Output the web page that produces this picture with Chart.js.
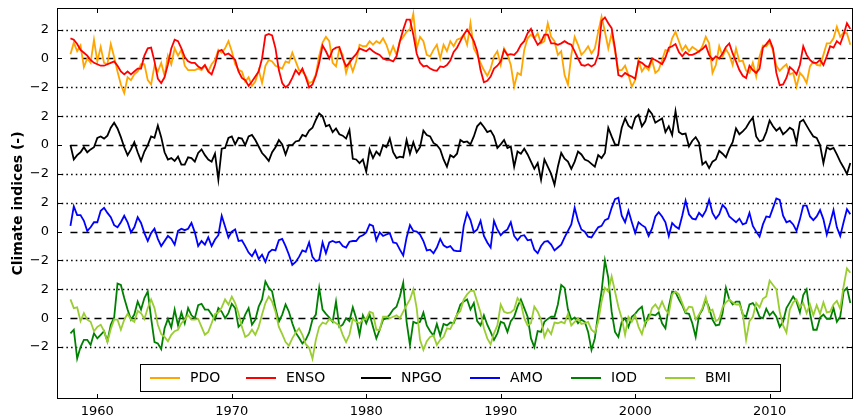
<!DOCTYPE html>
<html>
<head>
<meta charset="utf-8">
<title>Climate indices</title>
<script src="https://cdn.jsdelivr.net/npm/chart.js@4.4.1/dist/chart.umd.min.js"></script>
<style>
    html, body { margin: 0; padding: 0; background: #ffffff; }
    #wrap { width: 853px; height: 419px; }
</style>
</head>
<body>
<div id="wrap"><canvas id="indicesChart" width="853" height="419"></canvas></div>
<script>
'use strict';

// Quarterly samples, first value at 1958.00, last at 2016.00
const startYear = 1958;
const stepYears = 0.25;

const yearTicks = [1960, 1970, 1980, 1990, 2000, 2010];
const panelTicks = [2, 0, -2];

const seriesNames = ['PDO', 'ENSO', 'NPGO', 'AMO', 'IOD', 'BMI'];

const pdo = [
    0.3, 1.1, 0.5, 0.9,   -0.6, 0.0, -0.3, 1.3,   -0.2, 0.8, -0.3, -0.4,   1.0, 0.1, -0.9, -1.8,
    -2.4, -1.3, -1.5, -1.1,   -0.9, -0.4, -0.4, -1.5,   -1.8, -0.5, -0.9, -0.3,   -1.2, 0.2, -0.4, 0.7,
    0.2, 0.6, -0.5, -0.8,   -0.8, -0.8, -0.7, -0.8,   -0.5, -0.9, -0.4, -0.1,   0.6, 0.4, 0.7, 1.2,
    0.5, -0.4, -0.8, -0.9,   -1.6, -1.3, -1.9, -1.6,   -0.8, -1.7, -0.5, -0.1,   -0.2, -0.5, -0.6, -0.7,
    -0.2, -0.3, 0.4, -0.2,   -0.8, -0.9, -1.2, -1.7,   -1.6, -1.1, 0.2, 1.1,   1.5, 1.2, -0.3, -0.55,
    0.7, 0.25, -1.0, -0.2,   -0.9, -0.2, 0.95, 0.85,   0.85, 1.2, 0.95, 1.2,   1.05, 1.4, 0.95, 0.25,
    0.85, 0.25, 1.2, 1.5,   1.85, 2.05, 3.1, 0.7,   1.5, 1.2, 0.25, 0.15,   0.6, 0.95, 0.0, 0.95,
    0.5, 1.2, 0.85, 1.3,   1.4, 1.65, 0.95, 2.45,   0.7, 0.25, -0.3, -0.8,   -1.2, -0.7, 0.15, 0.5,
    -0.45, 0.7, 0.25, -0.45,   -1.95, -1.0, -1.15, 0.6,   1.4, 1.65, 1.4, 1.75,   1.05, 1.2, 2.45, 1.5,
    1.2, 0.25, 0.5, -1.15,   -1.8, 0.25, 1.5, 0.95,   0.25, 0.5, 0.85, 0.35,   0.7, 1.85, 2.9, 1.85,
    0.7, 1.75, 0.5, -0.8,   -0.8, -0.5, -1.15, -1.95,   -1.5, -0.1, -0.9, -0.55,   -0.8, -0.1, -1.0, -0.8,
    -0.1, 0.6, 0.5, 1.4,   1.85, 1.2, 0.55, 0.9,   0.5, 0.8, 0.65, 0.45,   0.85, 1.5, 1.05, -1.0,
    -0.45, 0.85, 0.15, 0.65,   0.25, -0.45, 0.7, -0.2,   -0.15, -0.85, -1.0, -0.3,   -1.25, 0.15, 0.9, 0.85,
    1.15, 0.55, -0.5, -0.85,   -0.6, -0.4, -1.1, -1.0,   -1.95, -1.0, -1.25, -1.7,   -0.55, -0.2, -0.45, -0.5,
    0.25, 1.05, 1.05, 1.4,   2.2, 1.5, 1.8, 1.75,   0.95
];

const enso = [
    1.4, 1.3, 1.0, 0.6,   0.4, 0.2, -0.1, -0.3,   -0.4, -0.5, -0.5, -0.4,   -0.3, -0.2, -0.5, -0.9,
    -1.1, -0.9, -1.1, -0.9,   -0.7, -0.7, 0.2, 0.7,   0.75, -0.2, -1.4, -1.7,   -1.3, -0.4, 0.7, 1.3,
    1.2, 0.7, 0.1, -0.2,   -0.3, -0.3, -0.55, -0.7,   -0.45, -0.9, -1.1, -0.45,   0.5, 0.6, 0.25, 0.35,
    0.15, -0.1, -0.9, -1.35,   -1.5, -1.9, -1.6, -1.25,   -0.9, 0.0, 1.6, 1.7,   1.6, 0.7, -0.8, -1.7,
    -2.0, -1.8, -1.35, -0.8,   -1.1, -0.7, -1.3, -2.0,   -1.8, -1.2, -0.3, 0.9,   0.5, 0.0, 0.6, 0.75,
    0.8, 0.0, -0.55, -0.3,   0.05, 0.3, 0.7, 0.6,   0.5, 0.7, 0.5, 0.35,   0.25, 0.0, -0.1, -0.1,
    -0.2, 0.15, 1.2, 2.0,   2.7, 2.7, 1.65, 0.35,   -0.3, -0.55, -0.5, -0.7,   -0.8, -0.85, -0.55, -0.6,
    -0.45, -0.15, 0.45, 0.75,   1.2, 1.65, 2.0, 1.65,   1.2, 0.5, -0.8, -1.65,   -1.55, -1.25, -0.7, -0.5,
    -0.2, 0.6, 0.25, 0.3,   0.25, 0.5, 0.95, 1.2,   1.75, 2.05, 1.4, 0.95,   1.15, 1.65, 1.65, 1.05,
    1.05, 0.95, 1.05, 1.2,   1.05, 0.95, 0.5, 0.0,   -0.45, -0.5, -0.4, -0.55,   -0.4, 0.25, 2.6, 2.85,
    2.45, 2.1, 0.7, -1.15,   -1.25, -1.0, -1.15, -1.25,   -1.4, -0.2, -0.3, -0.5,   -0.6, 0.0, -0.1, -0.25,
    -0.4, 0.05, 0.75, 0.85,   1.0, 0.45, 0.15, 0.45,   0.25, 0.25, 0.35, 0.5,   0.65, 0.9, 0.25, -0.1,
    0.15, 0.0, 0.35, 0.8,   1.05, 0.35, -0.2, -0.8,   -1.2, -1.35, -0.5, -0.8,   -1.0, -0.7, 0.75, 1.0,
    1.3, 0.7, -1.0, -1.85,   -1.8, -1.35, -0.6, -0.8,   -1.1, -0.45, 0.85, 0.25,   -0.1, -0.3, -0.3, -0.1,
    -0.45, 0.15, 0.85, 0.75,   1.2, 1.0, 1.65, 2.45,   2.05
];

const npgo = [
    0.0, -1.0, -0.7, -0.5,   -0.15, -0.5, -0.3, -0.15,   0.5, 0.6, 0.45, 0.65,   1.2, 1.55, 1.15, 0.55,
    -0.15, -0.7, -0.3, 0.2,   -0.5, -1.1, -0.45, 0.0,   0.6, 0.5, 1.35, 0.55,   -0.5, -1.0, -0.9, -1.1,
    -0.8, -1.35, -1.35, -0.85,   -0.9, -1.15, -0.55, -0.3,   -0.7, -1.0, -1.15, -0.6,   -2.4, -0.25, -0.2, 0.5,
    0.6, 0.05, 0.5, 0.45,   0.0, 0.6, 0.7, 0.35,   -0.1, -0.55, -0.8, -1.1,   -0.5, -0.15, 0.35, 0.05,
    -0.65, 0.0, 0.0, 0.25,   0.3, 0.7, 0.6, 1.0,   1.2, 1.75, 2.2, 2.0,   1.3, 1.4, 0.9, 1.15,
    0.75, 0.65, 0.45, 1.05,   -0.95, -1.0, -1.25, -1.0,   -1.85, -0.3, -0.9, -0.45,   -0.7, 0.0, -0.15, 0.45,
    -0.5, -0.9, -0.8, -0.85,   0.35, -0.6, 0.2, -0.5,   -0.15, 1.0, 0.7, 0.6,   0.15, 0.0, -0.3, -1.0,
    -1.5, -0.7, -0.85, -0.6,   0.35, 0.2, 0.25, 0.05,   0.6, 1.3, 1.55, 1.25,   0.9, 1.0, 0.6, -0.2,
    0.05, 0.35, -0.2, -0.1,   -1.5, -0.45, -0.6, -0.25,   -0.65, -1.15, -1.65, -1.25,   -2.4, -1.0, -1.5, -2.0,
    -2.75, -1.5, -0.55, -0.95,   -1.15, -1.65, -1.15, -0.45,   -0.65, -1.0, -1.1, -1.3,   -1.5, -0.7, -0.9, -0.55,
    1.2, 0.6, 0.05, 0.0,   1.2, 1.85, 1.35, 1.15,   1.9, 2.1, 1.3, 1.65,   2.45, 2.15, 1.55, 1.7,
    1.85, 0.9, 1.3, 0.7,   2.35, 0.9, 0.75, 0.8,   -0.1, 0.3, 0.55, 0.15,   -1.35, -1.15, -1.6, -1.15,
    -1.0, -0.4, -0.6, -0.85,   -0.25, 0.2, 1.15, 0.75,   0.95, 1.2, 1.6, 1.9,   0.6, 0.25, 0.35, 0.9,
    1.7, 1.3, 1.0, 1.2,   0.75, 0.95, 1.2, 1.05,   0.15, 1.6, 1.75, 1.35,   0.95, 0.6, 0.5, 0.0,
    -1.25, -0.15, -0.3, -0.2,   -0.65, -1.15, -1.55, -2.0,   -1.25
];

const amo = [
    0.4, 1.75, 1.15, 1.15,   0.75, 0.05, 0.3, 0.65,   0.65, 1.45, 1.65, 1.3,   1.0, 0.45, 0.3, 0.65,
    1.1, 0.65, -0.05, 0.3,   1.0, 0.6, -0.1, -0.65,   -0.1, 0.2, -0.5, -1.0,   -0.65, -0.3, -0.5, -0.9,
    0.05, 0.2, 0.1, 0.2,   0.6, -0.05, -1.0, -0.65,   -0.9, -0.4, -1.0, -0.55,   -0.25, 1.1, 0.35, -0.4,
    0.0, 0.15, -0.65, -0.6,   -1.0, -1.45, -1.7, -1.3,   -1.9, -1.6, -2.1, -1.45,   -1.25, -1.3, -0.6, -0.5,
    -1.0, -1.6, -2.3, -2.1,   -1.75, -1.3, -1.4, -0.75,   -1.75, -2.05, -1.95, -0.75,   -1.5, -0.75, -0.65, -0.75,
    -0.7, -1.0, -1.1, -0.7,   -0.65, -0.65, -0.35, -0.25,   -0.05, 0.5, 0.4, -0.6,   -0.05, -0.3, -0.2, -0.1,
    -0.75, -0.8, -1.25, -1.65,   -0.4, 0.45, 0.05, 0.0,   -0.2, -0.65, -1.3, -1.25,   -1.5, -1.1, -0.5, -0.95,
    -1.1, -1.0, -1.3, -1.35,   -1.35, 0.4, 1.3, 0.8,   -0.05, 0.15, 0.75, -0.3,   -0.75, -1.1, 0.75, 0.15,
    -0.25, 0.0, 0.15, 0.65,   -0.3, -0.6, -0.3, -0.25,   -0.6, -0.55, -1.25, -1.5,   -1.0, -0.7, -0.65, -0.9,
    -1.3, -1.1, -0.9, -0.4,   0.05, 0.5, 1.65, 0.75,   0.15, 0.0, -0.35, -0.4,   -0.05, 0.3, 0.4, 0.8,
    0.9, 1.65, 2.25, 2.35,   1.1, 0.65, 1.45, 0.65,   -0.1, 0.65, 0.45, 0.3,   -0.3, 0.2, 1.05, 1.35,
    1.05, 0.65, -0.3, 0.6,   0.35, 0.2, 1.1, 2.15,   1.2, 0.9, 0.85, 1.3,   1.05, 1.45, 2.2, 1.3,
    0.9, 1.2, 1.85, 1.6,   1.05, 0.85, 0.65, 0.9,   0.5, 0.6, 1.3, 0.4,   0.0, -0.35, 0.5, 1.05,
    1.0, 1.65, 2.3, 2.2,   1.1, 0.65, 0.75, 0.5,   0.05, 0.85, 1.8, 1.8,   1.05, 0.8, 1.05, 1.5,
    0.85, -0.2, 0.6, 1.5,   0.3, -0.3, 0.65, 1.55,   1.2
];

const iod = [
    -1.05, -0.8, -2.8, -2.0,   -1.5, -1.5, -1.85, -1.05,   -1.4, -1.15, -0.9, -1.6,   -0.45, 0.05, 2.4, 2.3,
    1.4, 0.6, -0.1, 0.25,   1.15, 0.6, 1.4, 1.85,   0.0, -1.65, -1.75, -2.15,   -0.7, -0.05, -0.65, 0.6,
    -0.5, 0.4, -0.35, 0.7,   0.2, 0.0, 0.9, 1.0,   0.6, 0.6, 0.25, -0.1,   0.7, 0.45, 0.0, 0.35,
    1.0, 0.7, -0.6, -0.35,   0.25, 0.7, -0.45, -0.1,   0.8, 1.3, 2.55, 2.1,   1.85, 0.7, -0.25, 0.25,
    0.95, 0.45, -0.35, -1.0,   -1.35, -1.75, -1.5, -1.0,   -0.1, 0.25, 2.1, 0.6,   0.3, 0.05, -0.25, 1.15,
    -0.6, -0.45, 0.0, -0.2,   0.75, 0.0, -1.15, 0.2,   -0.35, 0.25, -0.6, -1.4,   -0.8, -0.1, 0.0, 0.25,
    0.6, 0.8, 1.5, 2.45,   -0.25, -1.85, -0.25, -0.35,   -0.25, 0.4, -0.5, -0.9,   -1.2, -0.4, -1.2, -0.4,
    -0.5, -0.3, -0.35, 0.25,   0.95, 1.15, 1.3, 0.6,   1.05, -0.2, -0.5, 0.2,   -0.45, -0.95, -1.5, -1.05,
    -0.25, -0.35, -0.95, -0.2,   0.1, 0.8, 1.3, 0.7,   0.1, -1.4, -2.0, -0.9,   -0.95, -0.25, -0.05, 0.1,
    0.1, 0.95, 2.3, 2.1,   0.6, -0.1, 0.05, -0.35,   -0.1, -0.25, -0.95, -2.2,   -1.4, 0.35, 1.85, 4.0,
    2.8, 0.45, -0.95, -1.3,   -0.25, 0.0, -0.6, 0.1,   0.3, 0.6, 0.8, -0.45,   0.25, 0.25, 0.2, 0.4,
    -0.35, -0.7, 0.8, 1.85,   1.8, 1.3, 0.9, 0.35,   0.3, -0.35, -1.3, 0.2,   0.6, 1.3, 0.7, -0.1,
    -0.5, -0.45, 0.35, 2.1,   1.3, 0.95, 1.15, 1.15,   0.25, 0.1, 0.95, 1.05,   0.7, 0.1, 0.0, 0.65,
    0.2, 0.45, 0.1, -0.6,   -0.25, 0.7, 1.1, 1.5,   1.15, 0.4, 1.6, 2.0,   0.35, -0.8, -0.8, 0.05,
    0.25, -0.05, -0.05, 0.7,   -0.25, 0.1, 1.85, 2.1,   1.05
];

const bmi = [
    1.3, 0.7, 0.75, -0.2,   0.35, -0.1, -0.25, -0.9,   -0.6, -0.45, -0.9, -1.65,   -0.75, -0.1, -0.1, -0.8,
    -0.1, 0.3, -0.1, -0.25,   0.5, 0.35, -0.05, 0.7,   1.3, 0.7, -0.45, -1.1,   -1.3, -1.6, -1.15, -0.9,
    -0.8, -0.35, -0.1, 0.2,   -0.1, -0.1, -0.05, -0.6,   -1.15, -0.95, -0.35, 0.3,   0.4, 0.75, 1.3, 0.95,
    1.5, 1.05, 0.35, -0.6,   -1.3, -1.15, -0.8, -1.15,   -0.6, 0.25, 1.05, 1.5,   1.15, 0.45, -0.6, -1.1,
    -1.65, -1.9, -1.4, -1.0,   -0.7, -1.15, -1.8, -2.05,   -2.8, -1.5, -0.6, -0.3,   -0.4, -0.05, -0.2, -0.35,
    -0.5, -1.15, -1.65, -1.15,   -0.05, -0.25, -0.35, -0.1,   -0.05, 0.45, 0.35, -0.8,   -0.8, 0.1, 0.1, 0.0,
    0.1, 0.2, 0.0, 0.45,   0.9, 1.3, 2.0, 0.7,   -1.5, -2.2, -1.6, -1.3,   -1.2, -1.85, -1.5, -1.3,
    -0.7, -0.75, -0.25, 0.25,   0.5, 1.3, 1.65, 1.9,   1.9, 1.15, 0.4, -0.7,   -1.4, -1.8, -1.05, -0.5,
    0.95, 0.45, 0.35, 0.4,   0.6, 1.4, 1.05, 0.0,   -0.5, -0.35, 0.8, 0.45,   -0.1, -1.3, -0.75, -1.1,
    -0.3, -0.35, -0.25, -0.35,   0.3, -0.5, -0.25, 0.0,   -0.4, -0.35, -0.25, -0.8,   -1.0, -0.25, 1.15, 2.1,
    1.85, 2.9, 1.85, 0.8,   0.0, -1.15, 0.1, -0.25,   0.2, -0.6, -1.1, -0.25,   -0.1, 0.7, 0.95, 0.6,
    1.15, 0.6, 0.3, 1.65,   1.85, 1.65, 1.05, 0.45,   0.8, 0.75, -0.1, 0.25,   0.7, 1.45, 0.45, 0.6,
    -0.2, -0.05, 0.75, 1.1,   1.3, 1.1, 0.95, 0.95,   0.35, -1.5, -0.2, 0.1,   1.05, 0.75, 1.35, 1.5,
    2.6, 2.3, 2.0, 0.45,   -0.5, -1.0, 0.6, 1.1,   1.3, 0.75, 1.05, 0.35,   0.95, 0.2, 0.9, 0.3,
    1.1, 0.4, 0.45, 0.95,   1.2, 0.65, 2.2, 3.45,   3.15
];

// which stacked panel each series sits in (0 = top)
const seriesPanels = [0, 0, 1, 2, 3, 3];
const seriesValues = [pdo, enso, npgo, amo, iod, bmi];
const seriesColors = ['#ffa500', '#ff0000', '#000000', '#0000ff', '#008000', '#9acd32'];

const PANEL_STEP = 6;      // vertical shift between panels, in index units
const PANEL_COUNT = 4;
const FONT = "'DejaVu Sans', sans-serif";

// left end of each legend entry's line sample, in canvas pixels
const LEGEND_SLOTS = [150, 246, 361, 470, 571, 665];

/**
 * Dotted lines at +/-2 and a dashed zero line for every panel
 */
const refLinesPlugin = {
    id: 'refLines',
    beforeDatasetsDraw(chart) {
        const {ctx, chartArea, scales: {x, y}} = chart;
        ctx.save();
        ctx.strokeStyle = '#000';
        for (let p = 0; p < PANEL_COUNT; p++) {
            const base = -PANEL_STEP * p;
            // dotted +/-2
            ctx.lineWidth = 1.5;
            ctx.setLineDash([1.5, 3.2]);
            [2, -2].forEach(v => {
                const py = Math.round(y.getPixelForValue(base + v)) + 0.5;
                ctx.beginPath();
                ctx.moveTo(chartArea.left, py);
                ctx.lineTo(chartArea.right, py);
                ctx.stroke();
            });
            // dashed zero over the data period
            ctx.lineWidth = 1.5;
            ctx.setLineDash([7, 5]);
            const pz = Math.round(y.getPixelForValue(base)) + 0.5;
            ctx.beginPath();
            ctx.moveTo(x.getPixelForValue(startYear), pz);
            ctx.lineTo(x.getPixelForValue(startYear + stepYears * (pdo.length - 1)), pz);
            ctx.stroke();
        }
        ctx.restore();
    }
};

/**
 * Box around the plot with inward ticks on all four sides
 */
const framePlugin = {
    id: 'frame',
    afterDatasetsDraw(chart) {
        const {ctx, chartArea: a, scales: {x, y}} = chart;
        const len = 5;
        ctx.save();
        ctx.strokeStyle = '#000';
        ctx.lineWidth = 1;
        ctx.setLineDash([]);
        ctx.strokeRect(a.left + 0.5, a.top + 0.5, a.right - a.left - 1, a.bottom - a.top - 1);
        ctx.beginPath();
        x.ticks.forEach(t => {
            const px = Math.round(x.getPixelForValue(t.value)) + 0.5;
            ctx.moveTo(px, a.bottom);
            ctx.lineTo(px, a.bottom - len);
            ctx.moveTo(px, a.top);
            ctx.lineTo(px, a.top + len);
        });
        y.ticks.forEach(t => {
            const py = Math.round(y.getPixelForValue(t.value)) + 0.5;
            ctx.moveTo(a.left, py);
            ctx.lineTo(a.left + len, py);
            ctx.moveTo(a.right, py);
            ctx.lineTo(a.right - len, py);
        });
        ctx.stroke();
        ctx.restore();
    }
};

/**
 * Single-row legend drawn inside the plot, near the bottom
 */
const legendPlugin = {
    id: 'insideLegend',
    afterDraw(chart) {
        const {ctx} = chart;
        const box = {left: 140, top: 364, width: 640, height: 27};
        const lineLen = 30;
        const textGap = 10;
        ctx.save();
        ctx.font = '14px ' + FONT;
        ctx.fillStyle = '#fff';
        ctx.fillRect(box.left, box.top, box.width, box.height);
        ctx.strokeStyle = '#000';
        ctx.lineWidth = 1;
        ctx.strokeRect(box.left + 0.5, box.top + 0.5, box.width, box.height);

        const cy = box.top + box.height / 2 + 0.5;
        ctx.textBaseline = 'middle';
        chart.data.datasets.forEach((ds, i) => {
            const cx = LEGEND_SLOTS[i];
            ctx.strokeStyle = ds.borderColor;
            ctx.lineWidth = 2;
            ctx.beginPath();
            ctx.moveTo(cx, cy);
            ctx.lineTo(cx + lineLen, cy);
            ctx.stroke();
            ctx.fillStyle = '#000';
            ctx.fillText(ds.label, cx + lineLen + textGap, cy);
        });
        ctx.restore();
    }
};

function buildDatasets() {
    return seriesNames.map((name, i) => {
        const shift = -PANEL_STEP * seriesPanels[i];
        return {
            label: name,
            data: seriesValues[i].map((v, k) => ({x: startYear + k * stepYears, y: v + shift})),
            borderColor: seriesColors[i],
            backgroundColor: seriesColors[i],
            borderWidth: 1.8,
            pointRadius: 0,
            fill: false,
            tension: 0,
            order: seriesNames.length - i   // later series drawn on top
        };
    });
}

// drop the label overhang padding Chart.js reserves at the axis ends
function noEdgePadding(scale) {
    scale.paddingTop = 0;
    scale.paddingBottom = 0;
    scale.paddingLeft = 0;
    scale.paddingRight = 0;
}

function initChart() {
    const ctx = document.getElementById('indicesChart');
    if (typeof Chart === 'undefined' || !ctx) {
        console.error('Chart.js is not loaded');
        return;
    }

    new Chart(ctx, {
        type: 'line',
        data: {datasets: buildDatasets()},
        options: {
            responsive: false,
            animation: false,
            layout: {padding: {top: 8, right: 0, bottom: 0, left: 0}},
            plugins: {
                legend: {display: false},
                tooltip: {enabled: false}
            },
            scales: {
                x: {
                    type: 'linear',
                    min: 1957,
                    max: 2016.2,
                    afterBuildTicks: scale => {
                        scale.ticks = yearTicks.map(v => ({value: v}));
                    },
                    afterFit: scale => {
                        scale.height = 20;
                        noEdgePadding(scale);
                    },
                    grid: {display: false, drawTicks: false},
                    border: {display: false},
                    ticks: {
                        color: '#000',
                        padding: 5,
                        maxRotation: 0,
                        autoSkip: false,
                        font: {size: 13, family: FONT},
                        callback: v => String(v)
                    }
                },
                y: {
                    type: 'linear',
                    min: -23.6,
                    max: 3.5,
                    afterBuildTicks: scale => {
                        const ticks = [];
                        for (let p = 0; p < PANEL_COUNT; p++) {
                            panelTicks.forEach(t => ticks.push({value: t - PANEL_STEP * p}));
                        }
                        scale.ticks = ticks;
                    },
                    afterFit: scale => {
                        scale.width = 57;
                        noEdgePadding(scale);
                    },
                    grid: {display: false, drawTicks: false},
                    border: {display: false},
                    ticks: {
                        color: '#000',
                        padding: 8,
                        autoSkip: false,
                        font: {size: 13, family: FONT},
                        callback: value => {
                            const p = Math.round(-value / PANEL_STEP);
                            const rel = Math.round(value + PANEL_STEP * p);
                            return rel < 0 ? '\u2212' + Math.abs(rel) : String(rel);
                        }
                    },
                    title: {
                        display: true,
                        text: 'Climate indices (-)',
                        color: '#000',
                        padding: {top: 10, bottom: 0},
                        font: {size: 14, weight: 'bold', family: FONT}
                    }
                }
            }
        },
        plugins: [refLinesPlugin, framePlugin, legendPlugin]
    });
}

initChart();
</script>
</body>
</html>
